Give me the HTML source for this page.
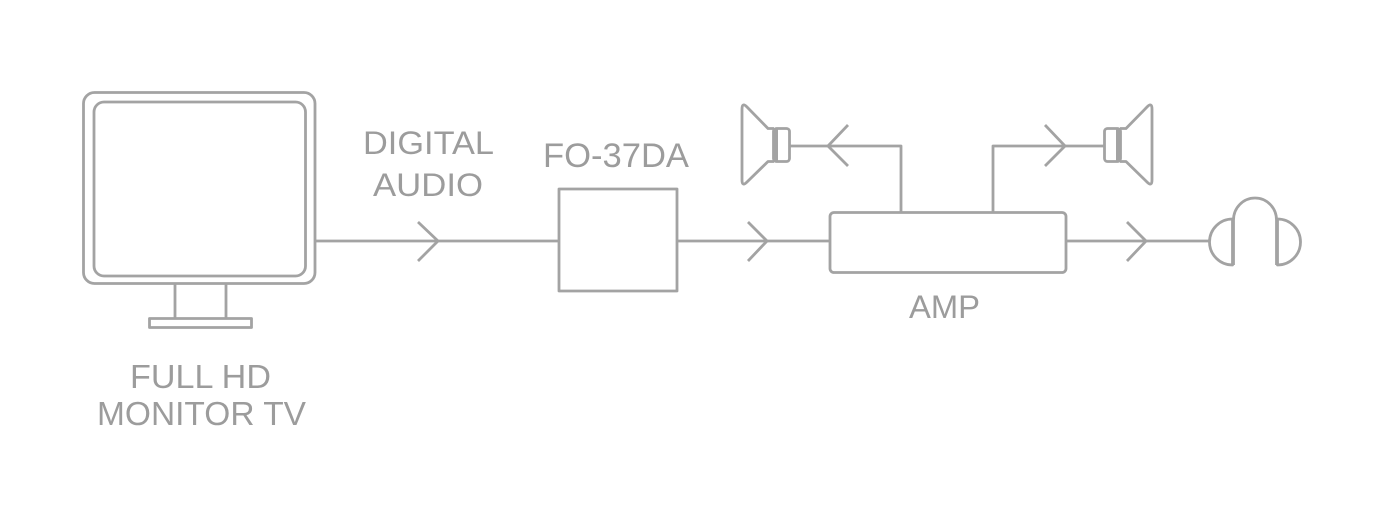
<!DOCTYPE html>
<html>
<head>
<meta charset="utf-8">
<style>
  html, body { margin: 0; padding: 0; background: #ffffff; }
  body { width: 1385px; height: 519px; overflow: hidden; }
  svg { display: block; }
  text { font-family: "Liberation Sans", Arial, sans-serif; fill: #9c9c9c; }
</style>
</head>
<body>
<svg width="1385" height="519" viewBox="0 0 1385 519" xmlns="http://www.w3.org/2000/svg">
  <rect x="0" y="0" width="1385" height="519" fill="#ffffff"/>
  <g fill="none" stroke="#a3a3a3" stroke-width="2.8" stroke-linejoin="round">
    <!-- Monitor -->
    <rect x="83.5" y="92.5" width="231.5" height="191" rx="11"/>
    <rect x="94" y="102" width="211.5" height="174" rx="10"/>
    <path d="M175,284 V318 M226,284 V318"/>
    <rect x="149.5" y="318.5" width="102" height="9"/>

    <!-- line monitor -> FO -->
    <path d="M315,241 H558"/>
    <polyline points="418,222 438,241 418,261"/>

    <!-- FO-37DA box -->
    <rect x="559" y="189" width="118" height="102"/>

    <!-- line FO -> AMP -->
    <path d="M677,241 H830"/>
    <polyline points="748,222 767,241 748,261"/>

    <!-- AMP box -->
    <rect x="830" y="212.5" width="236" height="60" rx="4"/>

    <!-- branch to left speaker -->
    <path d="M901,212 V146 H790"/>
    <polyline points="848,125 828,146 848,166"/>

    <!-- branch to right speaker -->
    <path d="M993,212 V146 H1104"/>
    <polyline points="1045,125 1065,146 1045,166"/>

    <!-- line AMP -> headphones -->
    <path d="M1066,241 H1209"/>
    <polyline points="1127,222 1146,241 1127,261"/>

    <!-- Left speaker -->
    <path d="M774,128.5 L768,128.5 L747,107 Q742,102 742,109 L742,180 Q742,187 747,182 L768,161.5 L774,161.5"/>
    <rect x="773.5" y="128.5" width="16" height="33" rx="3"/>
    <path d="M776,129 V161" stroke-width="4"/>

    <!-- Right speaker (mirrored) -->
    <path d="M1120,128.5 L1126,128.5 L1147,107 Q1152,102 1152,109 L1152,180 Q1152,187 1147,182 L1126,161.5 L1120,161.5"/>
    <rect x="1104.5" y="128.5" width="16" height="33" rx="3"/>
    <path d="M1118,129 V161" stroke-width="4"/>

    <!-- Headphones -->
    <path d="M1232.5,219 A23,23 0 0 0 1232.5,265 Z"/>
    <path d="M1277.5,219 A23,23 0 0 1 1277.5,265 Z"/>
    <path d="M1233.5,265 V220 A21.5,22 0 0 1 1276.5,220 V265"/>
  </g>

  <!-- Labels -->
  <text x="363" y="154" font-size="32" textLength="131" lengthAdjust="spacingAndGlyphs">DIGITAL</text>
  <text x="373" y="196" font-size="32" textLength="110" lengthAdjust="spacingAndGlyphs">AUDIO</text>
  <text x="543" y="167" font-size="34" textLength="146" lengthAdjust="spacingAndGlyphs">FO-37DA</text>
  <text x="909" y="318" font-size="32" textLength="71" lengthAdjust="spacingAndGlyphs">AMP</text>
  <text x="130" y="388" font-size="33" textLength="141" lengthAdjust="spacingAndGlyphs">FULL HD</text>
  <text x="97" y="425" font-size="33" textLength="209" lengthAdjust="spacingAndGlyphs">MONITOR TV</text>
</svg>
</body>
</html>
